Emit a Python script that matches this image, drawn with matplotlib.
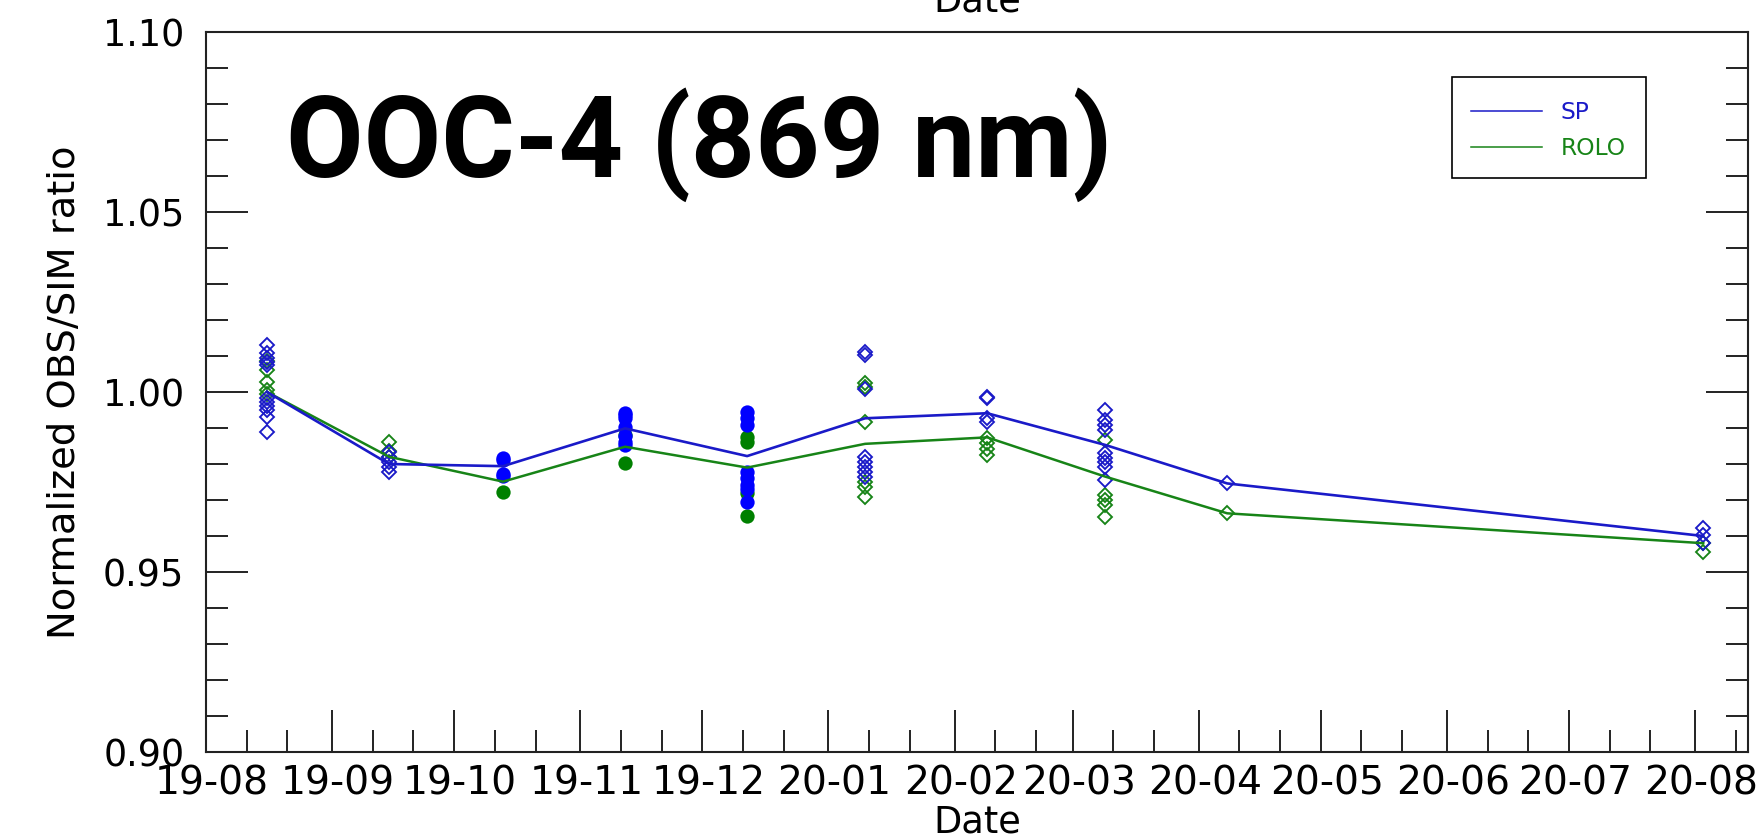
import matplotlib
matplotlib.use("Agg")
import matplotlib.pyplot as plt
import matplotlib.dates as mdates
import matplotlib.transforms as mtransforms
from matplotlib.patches import Rectangle
from matplotlib.ticker import MultipleLocator, FormatStrFormatter
import datetime as dt

# ---------------- data ----------------
obs_dates = ["2019-08-16", "2019-09-15", "2019-10-13", "2019-11-12", "2019-12-12",
             "2020-01-10", "2020-02-09", "2020-03-09", "2020-04-08", "2020-08-03"]
obs_filled = [False, False, True, True, True, False, False, False, False, False]

sp_mean = [1.000, 0.980, 0.9794, 0.9899, 0.9822, 0.9927, 0.9941, 0.9853, 0.9746, 0.9600]
rolo_mean = [1.000, 0.982, 0.9751, 0.9848, 0.9790, 0.9856, 0.9874, 0.9765, 0.9663, 0.9580]

sp_points = [
    [1.0131, 1.0107, 1.0094, 1.0084, 1.0075, 0.9982, 0.9973, 0.9961, 0.9950, 0.9931, 0.9890],
    [0.9834, 0.9820, 0.9806, 0.9793, 0.9779],
    [0.9818, 0.9812, 0.9772, 0.9768],
    [0.9941, 0.9935, 0.9927, 0.9904, 0.9877, 0.9860, 0.9853],
    [0.9945, 0.9927, 0.9908, 0.9779, 0.9760, 0.9742, 0.9730, 0.9695],
    [1.0112, 1.0103, 1.0007, 0.9820, 0.9806, 0.9793, 0.9779, 0.9765],
    [0.9987, 0.9983, 0.9927, 0.9918],
    [0.9950, 0.9922, 0.9908, 0.9894, 0.9830, 0.9816, 0.9806, 0.9793, 0.9756],
    [0.9746],
    [0.9621, 0.9603, 0.9580],
]
rolo_points = [
    [1.0085, 1.0061, 1.0029, 1.0006, 0.9995],
    [0.9860, 0.9835, 0.9820],
    [0.9723],
    [0.9881, 0.9802],
    [0.9876, 0.9860, 0.9719, 0.9656],
    [1.0024, 1.0015, 0.9918, 0.9751, 0.9737, 0.9709],
    [0.9871, 0.9857, 0.9843, 0.9825],
    [0.9867, 0.9714, 0.9700, 0.9686, 0.9654],
    [0.9663],
    [0.9580, 0.9556],
]
series_names = ["SP", "ROLO"]
title_text = "OOC-4 (869 nm)"
x_label = "Date"
y_label = "Normalized OBS/SIM ratio"
x_start, x_end = "2019-08-01", "2020-08-14"

# ---------------- style ----------------
W, H = 1757, 836
AX_L, AX_R, AX_T, AX_B = 206, 1748, 32, 752
fig = plt.figure(figsize=(W / 100, H / 100), dpi=100)
ax = fig.add_axes([AX_L / W, 1 - AX_B / H, (AX_R - AX_L) / W, (AX_B - AX_T) / H])

def axx(px):
    return (px - AX_L) / (AX_R - AX_L)

def axy(py):
    return (AX_B - py) / (AX_B - AX_T)

BLUE_LINE = "#1a1ac8"
BLUE_FILL = "#0000ff"
GREEN_LINE = "#178417"
GREEN_FILL = "#008000"

dates = [dt.datetime.strptime(d, "%Y-%m-%d") for d in obs_dates]

def draw_points(points, color_open, color_fill, z):
    for d, vals, filled in zip(dates, points, obs_filled):
        xs = [d] * len(vals)
        if filled:
            ax.plot(xs, vals, linestyle="none", marker="o", markersize=10.3,
                    color=color_fill, markeredgewidth=0, zorder=z)
        else:
            ax.plot(xs, vals, linestyle="none", marker="D", markersize=6.9,
                    markerfacecolor="none", markeredgecolor=color_open,
                    markeredgewidth=1.35, zorder=z)

draw_points(rolo_points, GREEN_LINE, GREEN_FILL, 3)
draw_points(sp_points, BLUE_LINE, BLUE_FILL, 4)
ax.plot(dates, rolo_mean, color=GREEN_LINE, lw=1.8, zorder=5, label=series_names[1])
ax.plot(dates, sp_mean, color=BLUE_LINE, lw=1.9, zorder=6, label=series_names[0])

ax.set_xlim(dt.datetime.strptime(x_start, "%Y-%m-%d"), dt.datetime.strptime(x_end, "%Y-%m-%d"))
ax.set_ylim(0.90, 1.10)

ax.xaxis.set_major_locator(mdates.MonthLocator())
ax.xaxis.set_minor_locator(mdates.DayLocator(bymonthday=[11, 21]))
ax.xaxis.set_major_formatter(mdates.DateFormatter("%y-%m"))
ax.yaxis.set_major_locator(MultipleLocator(0.05))
ax.yaxis.set_minor_locator(MultipleLocator(0.01))
ax.yaxis.set_major_formatter(FormatStrFormatter("%.2f"))

tick_col = "#222222"
ax.tick_params(axis="both", which="major", direction="in", length=30.5, width=1.4,
               color=tick_col)
ax.tick_params(axis="both", which="minor", direction="in", length=15.6, width=1.4,
               color=tick_col)
ax.tick_params(axis="x", which="both", top=False, bottom=True, pad=9.0, labelsize=28.3)
ax.tick_params(axis="y", which="both", left=True, right=True, pad=15.5, labelsize=26.3)
for s in ax.spines.values():
    s.set_linewidth(1.5)
    s.set_color(tick_col)

ax.set_xlabel(x_label, fontsize=26.5, labelpad=0.5)
ax.set_ylabel(y_label, fontsize=27.7)
ax.yaxis.set_label_coords(-0.080, 0.5)

ax.text(0.052, 0.7986, title_text, transform=ax.transAxes, fontsize=81,
        fontweight="bold", family="Roboto", ha="left", va="baseline", color="black")

# remnant of the panel above
fig.text((AX_L + AX_R) / 2 / W, 1 - 11 / H, x_label, ha="center", va="baseline", fontsize=26.5)

# legend: frame drawn separately for exact size
frame = Rectangle((axx(1452), axy(178)), axx(1646) - axx(1452), axy(77) - axy(178),
                  transform=ax.transAxes, facecolor="white", edgecolor="black",
                  linewidth=1.2, zorder=10)
ax.add_patch(frame)
handles, labels = ax.get_legend_handles_labels()
order = [labels.index(n) for n in series_names]
leg = ax.legend([handles[i] for i in order], [labels[i] for i in order],
                loc="upper left", bbox_to_anchor=(axx(1471), axy(101)),
                fontsize=16.8, handlelength=3.05, handletextpad=0.8, borderpad=0,
                labelspacing=0.55, frameon=False, borderaxespad=0,
                labelcolor="linecolor")
leg.set_zorder(11)
for line in leg.get_lines():
    line.set_linewidth(1.1)

fig.canvas.draw()
shift = mtransforms.ScaledTranslation(6 / 100, 0, fig.dpi_scale_trans)
for lab in ax.get_xticklabels():
    lab.set_transform(lab.get_transform() + shift)

fig.savefig("out.png", dpi=100)
